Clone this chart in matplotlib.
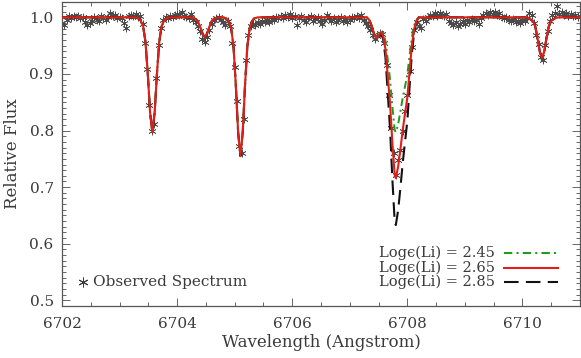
import numpy as np
import matplotlib
matplotlib.use("Agg")
import matplotlib.pyplot as plt

# observed spectrum, sampled every 0.04 A from 6702.00 to 6711.00
obs_wave = np.round(np.arange(6702.00, 6711.0001, 0.04), 2)
obs_flux = [
    0.990, 0.986, 0.995, 1.002, 0.999, 1.003, 1.001, 1.002, 0.998, 1.001,
    0.992, 0.987, 0.990, 0.994, 1.000, 0.996, 0.993, 1.002, 0.998, 0.995,
    1.001, 1.008, 1.002, 1.004, 0.999, 1.001, 0.998, 0.990, 0.981, 1.003,
    1.004, 1.002, 1.006, 1.001, 1.003, 0.988, 0.955, 0.908, 0.845, 0.799,
    0.812, 0.893, 0.952, 0.981, 0.996, 1.001, 0.999, 1.002, 1.000, 1.004,
    1.006, 1.004, 1.010, 1.003, 1.001, 0.998, 1.006, 0.995, 0.991, 0.985,
    0.975, 0.962, 0.957, 0.965, 0.978, 0.988, 0.995, 0.998, 1.001, 0.996,
    0.992, 0.987, 0.993, 0.985, 0.955, 0.912, 0.853, 0.772, 0.760, 0.820,
    0.925, 0.968, 0.985, 0.989, 0.986, 0.992, 0.989, 0.994, 0.991, 0.996,
    0.992, 0.997, 0.995, 1.001, 0.998, 1.003, 0.999, 1.004, 1.001, 1.006,
    0.998, 1.002, 0.987, 0.999, 1.003, 0.995, 0.991, 0.998, 1.002, 0.994,
    0.997, 1.001, 0.993, 0.989, 0.996, 1.005, 0.998, 0.993, 0.999, 0.992,
    0.995, 1.000, 0.993, 0.997, 0.991, 0.996, 1.001, 0.998, 1.003, 0.999,
    1.004, 0.996, 0.990, 0.985, 0.978, 0.968, 0.962, 0.967, 0.973, 0.970,
    0.955, 0.915, 0.862, 0.805, 0.760, 0.722, 0.748, 0.765, 0.800, 0.835,
    0.862, 0.905, 0.948, 0.978, 0.992, 0.985, 0.981, 0.997, 0.994, 1.001,
    1.004, 1.002, 1.007, 1.003, 1.008, 1.005, 1.002, 1.006, 0.994, 0.990,
    0.987, 0.991, 0.985, 0.989, 0.993, 0.988, 0.995, 0.992, 0.997, 0.993,
    0.996, 0.989, 0.998, 1.004, 1.008, 1.005, 1.010, 1.006, 1.009, 1.004,
    1.007, 1.001, 0.998, 1.000, 0.996, 0.993, 0.997, 0.991, 0.994, 0.990,
    0.996, 0.993, 0.999, 1.008, 1.005, 0.990, 0.968, 0.953, 0.930, 0.924,
    0.952, 0.975, 0.994, 1.004, 1.008, 1.020, 1.006, 1.010, 1.004, 1.007,
    1.003, 1.006, 1.002, 1.005, 1.001, 1.003,
]

# synthetic spectrum, logeps(Li) = 2.65 (same for the other two away from Li)
model_wave = [
    6702.00,
    6703.27, 6703.33, 6703.37, 6703.41, 6703.45, 6703.49, 6703.53, 6703.57,
    6703.61, 6703.65, 6703.69, 6703.73, 6703.77, 6703.81, 6703.87,
    6704.24, 6704.28, 6704.32, 6704.36, 6704.40, 6704.44, 6704.48,
    6704.52, 6704.56, 6704.60, 6704.64, 6704.68, 6704.72,
    6704.80, 6704.86, 6704.90, 6704.94, 6704.98, 6705.02, 6705.06, 6705.10,
    6705.14, 6705.18, 6705.22, 6705.26, 6705.30, 6705.34, 6705.40,
    6707.30, 6707.34, 6707.38, 6707.42, 6707.46, 6707.50, 6707.54, 6707.58,
    6707.62, 6707.66, 6707.70, 6707.74, 6707.78, 6707.80, 6707.84, 6707.88,
    6707.92, 6707.96, 6708.00, 6708.04, 6708.08, 6708.12, 6708.16, 6708.20,
    6710.04, 6710.10, 6710.14, 6710.18, 6710.22, 6710.26, 6710.30, 6710.34,
    6710.38, 6710.42, 6710.46, 6710.50, 6710.54, 6710.58, 6710.64,
    6711.00,
]
flux_265 = [
    1.000,
    1.000, 0.998, 0.994, 0.984, 0.957, 0.901, 0.832, 0.797,
    0.832, 0.901, 0.957, 0.984, 0.994, 0.998, 1.000,
    1.000, 0.999, 0.997, 0.993, 0.983, 0.971, 0.965,
    0.971, 0.983, 0.993, 0.997, 0.999, 1.000,
    1.000, 0.998, 0.993, 0.980, 0.949, 0.880, 0.797, 0.755,
    0.797, 0.880, 0.949, 0.980, 0.993, 0.998, 1.000,
    1.000, 0.995, 0.985, 0.971, 0.964, 0.967, 0.974, 0.967,
    0.944, 0.896, 0.847, 0.778, 0.722, 0.716, 0.736, 0.767,
    0.801, 0.830, 0.858, 0.906, 0.952, 0.980, 0.994, 1.000,
    1.000, 0.999, 0.997, 0.994, 0.985, 0.965, 0.940, 0.928,
    0.940, 0.965, 0.985, 0.994, 0.997, 0.999, 1.000,
    1.000,
]

# Li 6708 region for the other two abundances (6707.46 ... 6708.20)
li_start, li_stop = 6707.46, 6708.20
li_flux_245 = [0.964, 0.968, 0.976, 0.974, 0.958, 0.925, 0.890, 0.842, 0.801, 0.797,
               0.811, 0.834, 0.858, 0.878, 0.899, 0.933, 0.965, 0.986, 0.996, 1.000]
li_flux_285 = [0.963, 0.966, 0.973, 0.961, 0.929, 0.866, 0.802, 0.714, 0.640, 0.633,
               0.659, 0.699, 0.743, 0.780, 0.817, 0.879, 0.938, 0.974, 0.993, 1.000]

labels = [u"Log\u03f5(Li) = 2.45", u"Log\u03f5(Li) = 2.65", u"Log\u03f5(Li) = 2.85"]

model_wave = np.array(model_wave)
i0 = int(np.argmin(abs(model_wave - li_start)))
i1 = int(np.argmin(abs(model_wave - li_stop))) + 1
flux_245 = np.array(flux_265)
flux_245[i0:i1] = li_flux_245
flux_285 = np.array(flux_265)
flux_285[i0:i1] = li_flux_285

plt.rcParams["font.family"] = ["DejaVu Serif", "DejaVu Sans"]
txt = "#3a3a3a"
green, red, black = "#1f9a1f", "#e01e1a", "#111111"
dashdot, dashed = (0, (4, 2, 1, 2)), (0, (7, 3.5))

fig = plt.figure(figsize=(5.81, 3.58), dpi=100)
ax = fig.add_axes([62 / 581, 1 - 306 / 358, 518 / 581, 304.5 / 358])

star = (6, 2, 0)
ax.plot(obs_wave, obs_flux, ls="none", marker=star, ms=5.5, mew=0.5,
        color="#4a4a4a", zorder=2)
ax.plot(model_wave, flux_245, color=green, lw=1.4, ls=dashdot, zorder=3)
ax.plot(model_wave, flux_285, color=black, lw=1.5, ls=dashed, zorder=3)
ax.plot(model_wave, flux_265, color=red, lw=1.5, zorder=4)

ax.set_xlim(6702, 6711)
ax.set_ylim(0.49, 1.028)
ax.set_xticks([6702, 6704, 6706, 6708, 6710])
ax.set_xticks(np.arange(6702, 6711.01, 0.5), minor=True)
ax.set_yticks([0.5, 0.6, 0.7, 0.8, 0.9, 1.0])
ax.set_yticks(np.arange(0.49, 1.0281, 0.01), minor=True)
ax.yaxis.set_major_formatter(matplotlib.ticker.FormatStrFormatter("%.1f"))
ax.tick_params(which="both", direction="in", top=True, right=True,
               colors="#666666", labelcolor=txt, width=0.7)
ax.tick_params(which="major", length=6, labelsize=11)
ax.tick_params(which="minor", length=3)
ax.tick_params(axis="x", pad=8)
ax.tick_params(axis="y", pad=6)
for s in ax.spines.values():
    s.set_color("#555555")
    s.set_linewidth(0.9)

ax.set_xlabel("Wavelength (Angstrom)", fontsize=12, color=txt, labelpad=2)
ax.set_ylabel("Relative Flux", fontsize=12, color=txt, labelpad=6)

# legend drawn by hand, IDL style
for k, (lab, col, ls) in enumerate(zip(labels, [green, red, black],
                                       [dashdot, "-", dashed])):
    yy = (306 - 253 - 14.5 * k) / 304.5
    ax.text(433 / 518, yy, lab, transform=ax.transAxes, ha="right", va="center",
            fontsize=10.5, color=txt)
    ax.plot([442 / 518, 496 / 518], [yy, yy], transform=ax.transAxes,
            color=col, lw=1.5, ls=ls)

ax.plot([20.7 / 518], [(306 - 282) / 304.5], transform=ax.transAxes,
        marker=star, ms=7, mew=0.7, color="#3a3a3a")
ax.text(31 / 518, (306 - 282) / 304.5, "Observed Spectrum", transform=ax.transAxes,
        ha="left", va="center", fontsize=11, color=txt)

fig.savefig("out.png", dpi=100)
